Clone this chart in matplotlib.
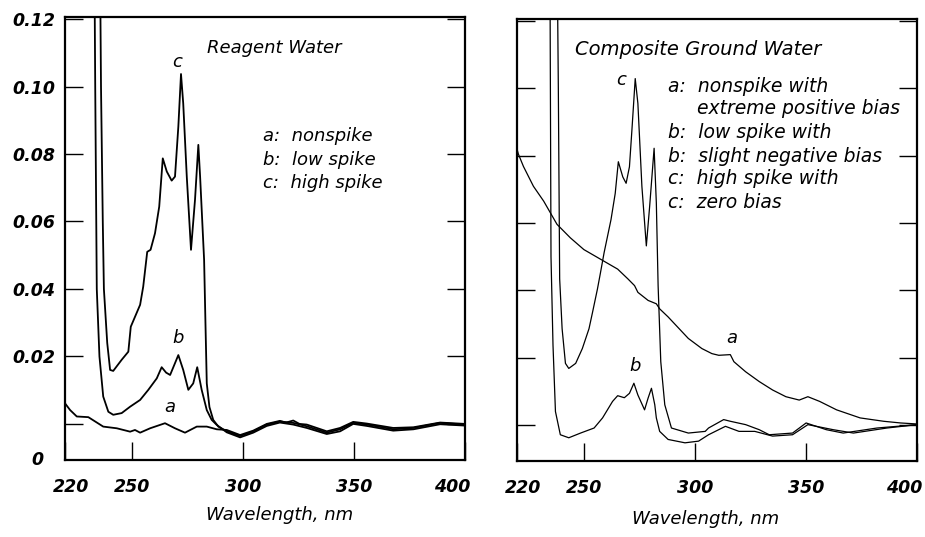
import matplotlib.pyplot as plt
import matplotlib.transforms as mtransforms

plt.rcParams['font.family'] = 'DejaVu Sans'

# ---- Reagent Water (left panel) ----
rw_a_nm = [220, 222.3, 225.3, 230.5, 237.2, 243.3, 249.3, 251.5, 253.8, 258.3, 265, 269.5,
           274, 279.3, 283.8, 288.3, 292.8, 298.8, 304.7, 310.8, 316.7, 319.5, 322.7, 325.5,
           328.8, 337.8, 343.8, 349.7, 355.8, 367.7, 376.8, 388.8, 400]
rw_a_abs = [0.0061, 0.0041, 0.0022, 0.0020, -0.0008, -0.0013, -0.0023, -0.0018, -0.0026, -0.0013,
            0.0002, -0.0013, -0.0026, -0.0008, -0.0008, -0.0016, -0.0018, -0.0033, -0.0020, 0.0,
            0.0009, 0.0004, 0.0010, 0.0, -0.0002, -0.0022, -0.0012, 0.0006, 0.0001, -0.0012,
            -0.0010, 0.0004, 0.0]

rw_b_nm = [233.0, 233.6, 234.3, 235.5, 237.2, 239.5, 241.7, 245.5, 249.3, 253.8, 257.5, 261.3,
           263.5, 265.5, 267.3, 269.5, 271, 273.2, 275.5, 277.7, 279.5, 281.5, 283.8, 286, 288.3,
           292.8, 298.8, 304.7, 310.8, 316.7, 322.7, 328.8, 337.8, 343.8, 349.7, 355.8, 367.7,
           376.8, 388.8, 400]
rw_b_abs = [0.16, 0.10, 0.04, 0.020, 0.0081, 0.0036, 0.0027, 0.0032, 0.0051, 0.0071, 0.0101, 0.0135,
            0.0168, 0.0152, 0.0145, 0.0180, 0.0204, 0.0160, 0.0101, 0.0120, 0.0168, 0.0101, 0.0041,
            0.0012, -0.0003, -0.0025, -0.0040, -0.0026, -0.0006, 0.0004, -0.0002, -0.0012, -0.0030,
            -0.0022, 0.0, -0.0006, -0.0020, -0.0016, -0.0001, -0.0005]

rw_c_nm = [235.5, 236.2, 237, 237.5, 239, 240.3, 241.7, 245.5, 248.5, 249.6, 253.8, 255.2, 257,
           258.5, 260.5, 262.4, 264, 265.8, 268, 269.5, 271, 272.2, 273.2, 274.8, 276.7, 278.5,
           280, 280.8, 282.6, 283.2, 283.8, 285, 286.7, 289, 292.8, 298.8, 304.7, 310.8, 316.7,
           322.7, 328.8, 337.8, 343.8, 349.7, 355.8, 367.7, 376.8, 388.8, 400]
rw_c_abs = [0.16, 0.10, 0.06, 0.04, 0.024, 0.016, 0.0157, 0.0190, 0.0214, 0.0288, 0.0353, 0.0407,
            0.0510, 0.0516, 0.0565, 0.0644, 0.0787, 0.0748, 0.0721, 0.0733, 0.0881, 0.1037, 0.0950,
            0.0733, 0.0516, 0.0664, 0.0827, 0.0733, 0.0486, 0.030, 0.012, 0.005, 0.0012, -0.0008,
            -0.0022, -0.0036, -0.0022, -0.0002, 0.0007, 0.0003, -0.0007, -0.0026, -0.0016, 0.0003,
            -0.0002, -0.0016, -0.0012, 0.0003, -0.0002]

# ---- Composite Ground Water (right panel) ----
gw_a_nm = [220, 220.6, 222.9, 227.4, 232, 238, 244, 250.1, 257.7, 265.3, 269.9, 272.9, 274.4, 279,
           282.7, 284.2, 288, 297.1, 303.2, 307.7, 310.8, 316, 317.6, 322.9, 329, 335, 341, 347,
           350.9, 356.2, 363.8, 374.4, 385, 392.6, 400]
gw_a_abs = [0.082, 0.0805, 0.0768, 0.0709, 0.0665, 0.0596, 0.0556, 0.0521, 0.0492, 0.0463, 0.0434,
            0.0414, 0.0394, 0.0370, 0.0360, 0.0345, 0.0321, 0.0257, 0.0227, 0.0212, 0.0207, 0.0209,
            0.0188, 0.0158, 0.0129, 0.0104, 0.0084, 0.0074, 0.0084, 0.0070, 0.0045, 0.0021, 0.0011,
            0.0006, 0.0003]

gw_b_nm = [234.7, 235.3, 236.2, 237.3, 239.5, 243.3, 248.6, 254.7, 258.5, 263, 265.3, 268.3, 270.6,
           272.6, 274.4, 277.4, 279, 280.5, 282, 282.7, 284.2, 288, 295.6, 301.7, 306.2, 313.8,
           319.9, 327, 335, 344, 350.9, 362.3, 371.4, 386.5, 400]
gw_b_abs = [0.16, 0.05, 0.0237, 0.0040, -0.0029, -0.0038, -0.0024, -0.0009, 0.0021, 0.0070, 0.0087,
            0.0081, 0.0094, 0.0124, 0.0089, 0.0045, 0.0080, 0.0109, 0.0060, 0.0021, -0.0019, -0.0043,
            -0.0053, -0.0048, -0.0029, -0.0004, -0.0019, -0.0019, -0.0033, -0.0029, 0.0001, -0.0014,
            -0.0024, -0.0009, 0.0001]

gw_c_nm = [237.8, 238.6, 239.2, 240.3, 241.8, 243.3, 246.4, 249.4, 252.4, 254, 256.2, 257.5, 259.2,
           262.3, 264.2, 265.6, 267.6, 269.1, 270.6, 271.7, 273.2, 274.4, 276.2, 278.2, 279.7, 281.7,
           282.7, 283.5, 284.7, 286.5, 289.5, 297.1, 304.7, 306.2, 313, 316, 322.9, 329, 333.5, 344,
           350.1, 359.2, 366.8, 382, 400]
gw_c_abs = [0.16, 0.10, 0.0434, 0.0286, 0.0183, 0.0168, 0.0183, 0.0227, 0.0286, 0.0335, 0.0404,
            0.0450, 0.0512, 0.0610, 0.0688, 0.0782, 0.0737, 0.0718, 0.0767, 0.0875, 0.1029, 0.0955,
            0.0709, 0.0532, 0.0650, 0.0822, 0.0660, 0.0414, 0.0188, 0.0060, -0.0009, -0.0024,
            -0.0019, -0.0009, 0.0016, 0.0011, 0.0001, -0.0014, -0.0029, -0.0024, 0.0006, -0.0014,
            -0.0024, -0.0009, 0.0001]

y_ticks = [0, 0.02, 0.04, 0.06, 0.08, 0.10, 0.12]
y_labels = ['', '0.02', '0.04', '0.06', '0.08', '0.10', '0.12']
x_ticks = [220, 250, 300, 350, 400]
x_labels = ['220', '250', '300', '350', '400']

W, H = 925, 537
fig = plt.figure(figsize=(W / 100, H / 100), dpi=100)


def make_axes(left, top, right, bottom):
    return fig.add_axes([left / W, 1 - bottom / H, (right - left) / W, (bottom - top) / H])


def style_panel(ax, ylabels):
    ax.set_xlim(220, 400)
    ax.set_ylim(-0.0107, 0.1206)
    for sp in ax.spines.values():
        sp.set_linewidth(1.6)
    ax.set_xticks(x_ticks)
    ax.set_xticklabels(x_labels)
    ax.set_yticks(y_ticks)
    ax.set_yticklabels(y_labels if ylabels else [])
    ax.tick_params(axis='both', direction='in', length=13, width=1.0, labelsize=12.5)
    ax.tick_params(axis='y', right=True, pad=7, labelleft=ylabels)
    ax.tick_params(axis='x', pad=13)
    for lbl in ax.get_xticklabels() + ax.get_yticklabels():
        lbl.set_fontstyle('italic')
        lbl.set_fontweight('bold')
    # 220 / 400 labels sit a little inside the frame edges
    labs = ax.get_xticklabels()
    labs[0].set_transform(labs[0].get_transform() +
                          mtransforms.ScaledTranslation(6 / 100, 0, fig.dpi_scale_trans))
    labs[-1].set_transform(labs[-1].get_transform() +
                           mtransforms.ScaledTranslation(-13 / 100, 0, fig.dpi_scale_trans))


txt = dict(fontstyle='italic', color='black')

# left panel
ax1 = make_axes(65, 17, 465, 460)
ax1.plot(rw_a_nm, rw_a_abs, color='black', lw=1.3)
ax1.plot(rw_b_nm, rw_b_abs, color='black', lw=1.3)
ax1.plot(rw_c_nm, rw_c_abs, color='black', lw=1.3)
style_panel(ax1, True)
ax1.text(-0.07, 0.0, '0', transform=ax1.transAxes, ha='center', va='center',
         fontsize=12.5, fontweight='bold', fontstyle='italic')
ax1.text(0.355, 0.930, 'Reagent Water', transform=ax1.transAxes, ha='left', va='center',
         fontsize=13, **txt)
for i, s in enumerate(['a:  nonspike', 'b:  low spike', 'c:  high spike']):
    ax1.text(0.495, 0.731 - i * 0.053, s, transform=ax1.transAxes, ha='left', va='center',
             fontsize=13, **txt)
ax1.text(270.4, 0.1073, 'c', ha='center', va='center', fontsize=13, **txt)
ax1.text(270.9, 0.0255, 'b', ha='center', va='center', fontsize=13, **txt)
ax1.text(267.3, 0.0050, 'a', ha='center', va='center', fontsize=13, **txt)
ax1.set_xlabel('Wavelength, nm', fontsize=13, fontstyle='italic', va='center')
ax1.xaxis.set_label_coords(0.5375, -0.124)

# right panel
ax2 = make_axes(517, 19, 917, 461)
ax2.plot(gw_a_nm, gw_a_abs, color='black', lw=0.9)
ax2.plot(gw_b_nm, gw_b_abs, color='black', lw=0.9)
ax2.plot(gw_c_nm, gw_c_abs, color='black', lw=0.9)
style_panel(ax2, False)
ax2.text(0.145, 0.930, 'Composite Ground Water', transform=ax2.transAxes, ha='left',
         va='center', fontsize=14, **txt)
gw_legend = [(0.3775, 'a:  nonspike with'), (0.45, 'extreme positive bias'),
             (0.3775, 'b:  low spike with'), (0.3775, 'b:  slight negative bias'),
             (0.3775, 'c:  high spike with'), (0.3775, 'c:  zero bias')]
gw_rows = [0.8465, 0.797, 0.743, 0.688, 0.639, 0.585]
for (xx, s), yy in zip(gw_legend, gw_rows):
    ax2.text(xx, yy, s, transform=ax2.transAxes, ha='left', va='center', fontsize=13.5, **txt)
ax2.text(266.8, 0.1024, 'c', ha='center', va='center', fontsize=13, **txt)
ax2.text(272.9, 0.0176, 'b', ha='center', va='center', fontsize=13, **txt)
ax2.text(316.5, 0.0259, 'a', ha='center', va='center', fontsize=13, **txt)
ax2.set_xlabel('Wavelength, nm', fontsize=13, fontstyle='italic', va='center')
ax2.xaxis.set_label_coords(0.4725, -0.131)

fig.savefig('out.png', dpi=100)
